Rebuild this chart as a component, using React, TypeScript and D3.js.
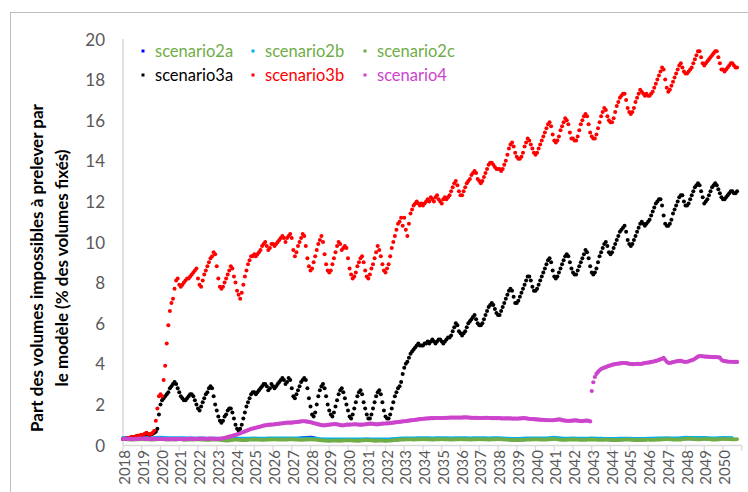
import React from "react";
import * as d3 from "d3";

// ---------- data ----------
const yearLabels = d3.range(2018, 2051).map(String);
const yTickValues = [0, 2, 4, 6, 8, 10, 12, 14, 16, 18, 20];

// semi-annual values (every 6 months from Jan 2018)
const scenario2a = [
  0.31, 0.29, 0.3, 0.29, 0.31, 0.29, 0.3, 0.28, 0.29, 0.27, 0.28, 0.24, 0.27, 0.26, 0.28, 0.27,
  0.29, 0.28, 0.3, 0.35, 0.38, 0.27, 0.22, 0.23, 0.24, 0.23, 0.25, 0.23, 0.22, 0.25, 0.28, 0.29,
  0.3, 0.29, 0.3, 0.29, 0.3, 0.29, 0.3, 0.29, 0.3, 0.27, 0.25, 0.27, 0.29, 0.28, 0.31, 0.27,
  0.28, 0.27, 0.28, 0.27, 0.26, 0.26, 0.27, 0.25, 0.27, 0.28, 0.3, 0.28, 0.31, 0.3, 0.31, 0.29,
  0.31, 0.3,
];
const scenario2b = [
  0.37, 0.36, 0.37, 0.36, 0.38, 0.36, 0.36, 0.35, 0.35, 0.33, 0.33, 0.31, 0.33, 0.33, 0.34, 0.33,
  0.35, 0.34, 0.35, 0.34, 0.35, 0.31, 0.29, 0.29, 0.3, 0.29, 0.31, 0.29, 0.29, 0.32, 0.35, 0.35,
  0.36, 0.35, 0.36, 0.35, 0.36, 0.35, 0.36, 0.35, 0.36, 0.33, 0.32, 0.34, 0.35, 0.34, 0.38, 0.33,
  0.34, 0.33, 0.34, 0.33, 0.32, 0.33, 0.33, 0.32, 0.33, 0.34, 0.36, 0.34, 0.38, 0.37, 0.37, 0.35,
  0.37, 0.36,
];
// quarterly values
const scenario2c = [
  0.3, 0.28, 0.27, 0.28, 0.29, 0.28, 0.27, 0.28, 0.3, 0.29, 0.27, 0.28, 0.29, 0.27, 0.26, 0.27,
  0.28, 0.26, 0.25, 0.26, 0.27, 0.25, 0.22, 0.24, 0.26, 0.25, 0.24, 0.26, 0.27, 0.26, 0.25, 0.27,
  0.28, 0.27, 0.26, 0.27, 0.28, 0.27, 0.25, 0.27, 0.28, 0.27, 0.24, 0.22, 0.2, 0.22, 0.21, 0.22,
  0.23, 0.22, 0.21, 0.23, 0.24, 0.23, 0.21, 0.22, 0.2, 0.22, 0.24, 0.26, 0.27, 0.28, 0.27, 0.28,
  0.29, 0.28, 0.27, 0.28, 0.29, 0.28, 0.27, 0.28, 0.29, 0.28, 0.27, 0.28, 0.29, 0.28, 0.27, 0.28,
  0.29, 0.28, 0.26, 0.25, 0.24, 0.25, 0.26, 0.27, 0.28, 0.27, 0.26, 0.28, 0.3, 0.27, 0.25, 0.26,
  0.27, 0.26, 0.25, 0.26, 0.27, 0.26, 0.25, 0.26, 0.25, 0.24, 0.25, 0.26, 0.26, 0.25, 0.24, 0.25,
  0.26, 0.25, 0.26, 0.28, 0.29, 0.28, 0.26, 0.27, 0.3, 0.31, 0.29, 0.28, 0.3, 0.29, 0.27, 0.28,
  0.3, 0.29, 0.28, 0.29,
];
// monthly values from Jan 2018
const scenario3a = [
  0.3, 0.3, 0.32, 0.34, 0.35, 0.37, 0.39, 0.4, 0.41, 0.43, 0.44, 0.46,
  0.48, 0.5, 0.52, 0.55, 0.53, 0.5, 0.53, 0.56, 0.6, 0.65, 0.8, 1.5,
  2.0, 2.2, 2.3, 2.4, 2.5, 2.6, 2.8, 2.9, 3.0, 3.1, 3.0, 2.8,
  2.6, 2.4, 2.3, 2.2, 2.2, 2.3, 2.4, 2.5, 2.5, 2.4, 2.2, 2.0,
  1.8, 1.7, 1.9, 2.1, 2.3, 2.5, 2.6, 2.8, 2.9, 2.8, 2.4, 2.0,
  1.7, 1.4, 1.2, 1.1, 1.2, 1.4, 1.5, 1.7, 1.8, 1.8, 1.6, 1.3,
  1.0, 0.8, 0.7, 0.8, 1.0, 1.3, 1.6, 1.9, 2.1, 2.3, 2.5, 2.6,
  2.6, 2.5, 2.6, 2.7, 2.8, 2.9, 3.0, 3.0, 2.9, 2.7, 2.8, 3.0,
  2.9, 2.8, 2.9, 3.0, 3.1, 3.2, 3.3, 3.2, 3.0, 3.1, 3.3, 3.2,
  2.8, 2.4, 2.3, 2.5, 2.7, 2.9, 3.1, 3.2, 3.3, 3.2, 2.8, 2.3,
  1.9, 1.5, 1.4, 1.6, 2.0, 2.4, 2.7, 2.9, 3.0, 2.8, 2.4, 2.0,
  1.7, 1.5, 1.4, 1.6, 1.9, 2.2, 2.5, 2.7, 2.8, 2.6, 2.3, 2.0,
  1.7, 1.4, 1.3, 1.5, 1.8, 2.1, 2.4, 2.6, 2.7, 2.5, 2.1, 1.8,
  1.5, 1.3, 1.3, 1.5, 1.8, 2.1, 2.4, 2.6, 2.7, 2.5, 2.1, 1.7,
  1.4, 1.3, 1.3, 1.5, 1.8, 2.1, 2.4, 2.6, 2.8, 2.9, 3.1, 3.5,
  3.8, 4.0, 4.1, 4.3, 4.5, 4.6, 4.7, 4.8, 4.9, 5.0, 4.9, 4.9,
  4.9, 5.0, 5.0, 5.1, 5.0, 5.1, 5.2, 5.1, 5.0, 5.1, 5.2, 5.2,
  5.1, 5.0, 5.1, 5.2, 5.3, 5.3, 5.4, 5.6, 5.8, 6.0, 5.9, 5.6,
  5.5, 5.4, 5.5, 5.6, 5.8, 6.0, 6.1, 6.2, 6.3, 6.4, 6.2, 6.0,
  5.9, 5.9, 6.0, 6.2, 6.4, 6.6, 6.8, 6.9, 7.0, 6.9, 6.7, 6.5,
  6.4, 6.4, 6.6, 6.8, 7.0, 7.2, 7.4, 7.6, 7.7, 7.6, 7.3, 7.0,
  7.0, 7.1, 7.3, 7.5, 7.7, 7.9, 8.1, 8.3, 8.3, 8.1, 7.8, 7.6,
  7.6, 7.7, 7.9, 8.1, 8.3, 8.5, 8.7, 8.9, 9.1, 9.2, 9.0, 8.6,
  8.3, 8.2, 8.3, 8.5, 8.7, 8.9, 9.1, 9.3, 9.4, 9.3, 9.0, 8.7,
  8.5, 8.4, 8.4, 8.6, 8.8, 9.0, 9.2, 9.4, 9.6, 9.5, 9.2, 8.8,
  8.5, 8.4, 8.5, 8.7, 9.0, 9.3, 9.5, 9.7, 9.9, 10.0, 9.8, 9.5,
  9.4, 9.5, 9.7, 9.9, 10.1, 10.3, 10.5, 10.6, 10.7, 10.8, 10.5, 10.1,
  9.9, 9.8, 9.9, 10.1, 10.3, 10.5, 10.7, 10.9, 11.0, 10.9, 10.8, 10.9,
  11.0, 11.1, 11.3, 11.5, 11.7, 11.9, 12.0, 12.1, 12.1, 11.8, 11.3, 10.9,
  10.8, 10.8, 10.9, 11.1, 11.4, 11.6, 11.8, 12.0, 12.2, 12.3, 12.3, 12.0,
  11.8, 11.8, 11.9, 12.1, 12.3, 12.5, 12.7, 12.8, 12.9, 12.8, 12.5, 12.2,
  11.9, 12.0, 12.1, 12.3, 12.5, 12.7, 12.8, 12.9, 12.8, 12.6, 12.4, 12.2,
  12.1, 12.1, 12.2, 12.3, 12.4, 12.5, 12.5, 12.4, 12.4, 12.5,
];
const scenario3b = [
  0.3, 0.3, 0.32, 0.35, 0.35, 0.38, 0.4, 0.4, 0.42, 0.45, 0.45, 0.48,
  0.5, 0.5, 0.55, 0.6, 0.55, 0.5, 0.55, 0.6, 0.7, 1.2, 1.8, 2.4,
  2.5, 2.4, 3.2, 3.9, 5.0, 5.9, 6.6, 7.0, 7.2, 7.7, 8.1, 8.2,
  7.9, 7.8, 7.9, 8.0, 8.1, 8.2, 8.2, 8.3, 8.4, 8.5, 8.6, 8.7,
  8.2, 7.9, 7.8, 8.1, 8.4, 8.6, 8.8, 9.0, 9.2, 9.3, 9.5, 9.4,
  8.8, 8.2, 7.8, 7.7, 7.8, 8.0, 8.2, 8.4, 8.6, 8.8, 8.7, 8.3,
  8.0, 7.6, 7.4, 7.2, 7.5, 7.9, 8.3, 8.6, 8.9, 9.1, 9.3, 9.3,
  9.4, 9.3, 9.4, 9.5, 9.6, 9.8, 9.9, 10.0, 9.8, 9.6, 9.7, 9.9,
  9.9, 9.8, 9.9, 10.0, 10.1, 10.2, 10.3, 10.2, 10.0, 10.2, 10.3, 10.4,
  10.2, 9.6, 9.3, 9.5, 9.8, 10.0, 10.2, 10.4, 10.3, 9.8, 9.2, 8.8,
  8.6, 8.7, 9.0, 9.3, 9.6, 9.9, 10.1, 10.3, 10.0, 9.4, 8.9, 8.6,
  8.5, 8.6, 8.9, 9.2, 9.5, 9.8, 10.0, 9.9, 9.6, 9.7, 9.8, 9.7,
  9.2, 8.7, 8.4, 8.2, 8.3, 8.5, 8.8, 9.0, 9.2, 9.3, 9.0, 8.6,
  8.3, 8.2, 8.4, 8.7, 8.9, 9.2, 9.5, 9.8, 9.6, 9.3, 8.9, 8.6,
  8.5, 8.7, 8.9, 9.3, 9.7, 10.0, 10.3, 10.6, 10.9, 11.0, 11.2, 10.8,
  11.2, 10.6, 10.3, 10.9, 11.4, 11.6, 11.8, 11.9, 12.0, 11.9, 11.8, 11.9,
  11.8, 11.9, 12.0, 12.1, 12.0, 12.2, 12.1, 12.0, 12.2, 12.3, 12.1, 12.0,
  11.9, 12.1, 12.2, 12.1, 12.2, 12.3, 12.5, 12.7, 12.9, 13.0, 12.8, 12.5,
  12.3, 12.3, 12.5, 12.7, 12.9, 13.0, 13.1, 13.3, 13.4, 13.5, 13.4, 13.1,
  13.0, 12.9, 13.0, 13.2, 13.4, 13.6, 13.8, 13.9, 13.9, 13.8, 13.7, 13.6,
  13.6, 13.6, 13.5, 13.6, 13.8, 14.0, 14.3, 14.6, 14.8, 14.9, 14.7, 14.4,
  14.2, 14.1, 14.1, 14.2, 14.4, 14.7, 14.9, 15.1, 15.0, 14.8, 14.6, 14.4,
  14.3, 14.4, 14.6, 14.8, 15.0, 15.2, 15.4, 15.6, 15.8, 15.9, 15.7, 15.3,
  15.0, 14.9, 15.0, 15.2, 15.5, 15.7, 15.9, 16.1, 16.0, 15.8, 15.4, 15.1,
  15.1, 15.0, 15.0, 15.2, 15.5, 15.8, 16.0, 16.2, 16.3, 16.2, 15.8, 15.4,
  15.2, 15.1, 15.1, 15.3, 15.6, 15.9, 16.2, 16.4, 16.6, 16.5, 16.2, 16.0,
  15.9, 15.9, 16.1, 16.4, 16.7, 16.9, 17.1, 17.2, 17.3, 17.3, 17.0, 16.6,
  16.4, 16.3, 16.4, 16.6, 16.9, 17.1, 17.3, 17.5, 17.4, 17.3, 17.2, 17.3,
  17.2, 17.2, 17.3, 17.4, 17.6, 17.8, 18.0, 18.2, 18.4, 18.6, 18.5, 18.0,
  17.6, 17.4, 17.5, 17.7, 17.9, 18.1, 18.3, 18.5, 18.7, 18.8, 18.6, 18.4,
  18.3, 18.3, 18.4, 18.5, 18.6, 18.8, 19.0, 19.2, 19.4, 19.4, 19.1, 18.8,
  18.7, 18.8, 18.9, 19.0, 19.1, 19.2, 19.3, 19.4, 19.4, 19.1, 18.8, 18.5,
  18.5, 18.4, 18.5, 18.6, 18.7, 18.8, 18.8, 18.7, 18.6, 18.6,
];
const scenario4 = [
  0.3, 0.3, 0.31, 0.31, 0.3, 0.3, 0.29, 0.29, 0.3, 0.3, 0.31, 0.31,
  0.32, 0.32, 0.31, 0.3, 0.3, 0.29, 0.29, 0.3, 0.31, 0.31, 0.3, 0.3,
  0.3, 0.29, 0.29, 0.28, 0.28, 0.29, 0.3, 0.3, 0.29, 0.28, 0.28, 0.29,
  0.3, 0.3, 0.29, 0.28, 0.28, 0.29, 0.3, 0.31, 0.31, 0.3, 0.29, 0.29,
  0.3, 0.31, 0.32, 0.32, 0.31, 0.3, 0.3, 0.31, 0.32, 0.32, 0.31, 0.3,
  0.3, 0.3, 0.31, 0.32, 0.33, 0.35, 0.37, 0.39, 0.41, 0.43, 0.45, 0.47,
  0.49, 0.52, 0.55, 0.58, 0.61, 0.64, 0.67, 0.7, 0.73, 0.76, 0.79, 0.81,
  0.83, 0.85, 0.87, 0.89, 0.91, 0.93, 0.95, 0.97, 0.98, 0.99, 1.0, 1.0,
  1.01, 1.02, 1.03, 1.04, 1.05, 1.06, 1.07, 1.08, 1.09, 1.1, 1.1, 1.1,
  1.1, 1.11, 1.12, 1.13, 1.14, 1.15, 1.16, 1.17, 1.17, 1.16, 1.15, 1.14,
  1.12, 1.1, 1.08, 1.06, 1.04, 1.02, 1.0, 0.98, 0.97, 0.97, 0.98, 0.99,
  1.0, 1.01, 1.02, 1.03, 1.03, 1.02, 1.0, 0.98, 0.97, 0.97, 0.98, 1.0,
  1.0, 1.0, 1.01, 1.01, 1.02, 1.02, 1.01, 1.0, 1.0, 1.0, 1.01, 1.02,
  1.03, 1.04, 1.05, 1.05, 1.04, 1.03, 1.02, 1.02, 1.03, 1.04, 1.05, 1.06,
  1.06, 1.07, 1.07, 1.08, 1.09, 1.1, 1.11, 1.12, 1.13, 1.14, 1.15, 1.16,
  1.17, 1.18, 1.19, 1.2, 1.21, 1.22, 1.23, 1.24, 1.25, 1.26, 1.27, 1.28,
  1.29, 1.3, 1.3, 1.31, 1.31, 1.32, 1.32, 1.32, 1.33, 1.33, 1.33, 1.33,
  1.33, 1.33, 1.34, 1.34, 1.34, 1.35, 1.35, 1.35, 1.35, 1.35, 1.35, 1.35,
  1.35, 1.35, 1.36, 1.36, 1.36, 1.35, 1.35, 1.34, 1.34, 1.34, 1.34, 1.34,
  1.33, 1.33, 1.33, 1.34, 1.34, 1.34, 1.33, 1.33, 1.32, 1.32, 1.32, 1.32,
  1.32, 1.32, 1.31, 1.31, 1.31, 1.31, 1.31, 1.31, 1.31, 1.3, 1.3, 1.3,
  1.3, 1.3, 1.31, 1.31, 1.32, 1.32, 1.31, 1.3, 1.29, 1.28, 1.27, 1.27,
  1.26, 1.26, 1.25, 1.25, 1.24, 1.24, 1.23, 1.23, 1.22, 1.22, 1.22, 1.22,
  1.23, 1.24, 1.25, 1.26, 1.25, 1.23, 1.21, 1.2, 1.19, 1.19, 1.19, 1.2,
  1.2, 1.21, 1.21, 1.2, 1.19, 1.18, 1.18, 1.19, 1.2, 1.2, 1.19, 1.16,
  2.66, 3.09, 3.35, 3.5, 3.6, 3.68, 3.74, 3.78, 3.81, 3.84, 3.87, 3.9,
  3.92, 3.95, 3.97, 3.98, 4.0, 4.01, 4.02, 4.03, 4.04, 4.04, 4.03, 4.02,
  4.0, 3.99, 3.98, 3.98, 3.99, 4.0, 4.0, 3.99, 4.0, 4.02, 4.04, 4.05,
  4.06, 4.07, 4.09, 4.1, 4.12, 4.14, 4.16, 4.19, 4.22, 4.25, 4.29, 4.2,
  4.1, 4.05, 4.04, 4.06, 4.08, 4.1, 4.12, 4.13, 4.14, 4.14, 4.12, 4.1,
  4.09, 4.1, 4.12, 4.15, 4.18, 4.2, 4.25, 4.3, 4.35, 4.38, 4.38, 4.37,
  4.36, 4.35, 4.35, 4.34, 4.34, 4.33, 4.33, 4.33, 4.33, 4.32, 4.3, 4.2,
  4.15, 4.13, 4.12, 4.11, 4.1, 4.1, 4.1, 4.09, 4.09, 4.09,
];

const seriesNames = ["scenario2a", "scenario2b", "scenario2c", "scenario3a", "scenario3b", "scenario4"];
const seriesColors = ["#0000ff", "#00b0f0", "#70ad47", "#000000", "#ff0000", "#cc44cc"];
const legendTextColors = ["#70ad47", "#70ad47", "#70ad47", "#000000", "#ff0000", "#cc44cc"];

const yTitle1 = "Part des volumes impossibles à prelever par";
const yTitle2 = "le modèle (% des volumes fixés)";

// ---------- layout ----------
const W = 748;
const H = 492;
const plotLeft = 123;
const plotRight = 741.75;
const plotTop = 39;
const plotBottom = 445;
const totalMonths = yearLabels.length * 12;

const font = "Lato, 'Open Sans', sans-serif";

export default function App() {
  const x = d3.scaleLinear().domain([0, totalMonths]).range([plotLeft, plotRight]);
  const y = d3.scaleLinear().domain([0, 20]).range([plotBottom, plotTop]);

  const lineSeries = [
    { values: scenario2a, step: 6, color: seriesColors[0], width: 3 },
    { values: scenario2b, step: 6, color: seriesColors[1], width: 3 },
    { values: scenario2c, step: 3, color: seriesColors[2], width: 3.8 },
  ];
  const dotSeries = [
    { values: scenario3a, color: seriesColors[3], r: 2.0 },
    { values: scenario3b, color: seriesColors[4], r: 2.0 },
    { values: scenario4, color: seriesColors[5], r: 2.1 },
  ];

  const legendX = [143, 253, 365];
  const legendY = [51, 75];

  return (
    <svg
      width={W}
      height={H}
      style={{ position: "absolute", left: 0, top: 0, background: "#fff" }}
      fontFamily={font}
    >
      <rect x={0} y={0} width={W} height={H} fill="#fff" />
      <rect x={10.5} y={12.5} width={W + 20} height={H + 20} fill="none" stroke="#bdbdbd" strokeWidth={1} />

      {/* axes */}
      <line x1={plotLeft} x2={plotLeft} y1={plotTop} y2={plotBottom} stroke="#d9d9d9" strokeWidth={1.5} />
      <line x1={plotLeft} x2={plotRight} y1={plotBottom + 0.5} y2={plotBottom + 0.5} stroke="#d9d9d9" strokeWidth={1.5} />
      {d3.range(0, yearLabels.length + 1).map((k) => (
        <line
          key={"xt" + k}
          x1={x(k * 12)}
          x2={x(k * 12)}
          y1={plotBottom}
          y2={plotBottom + 6}
          stroke="#d9d9d9"
          strokeWidth={1.2}
        />
      ))}
      {yearLabels.map((lab, k) => (
        <text
          key={"xl" + k}
          transform={`translate(${x(k * 12) + 1},${plotBottom + 5}) rotate(-90)`}
          textAnchor="end"
          dominantBaseline="central"
          fontSize={15}
          fill="#595959"
        >
          {lab}
        </text>
      ))}
      {yTickValues.map((v) => (
        <text
          key={"yl" + v}
          x={105}
          y={y(v)}
          textAnchor="end"
          dominantBaseline="central"
          fontSize={17}
          fill="#595959"
        >
          {v}
        </text>
      ))}

      {/* axis title */}
      <g transform="translate(36,268) rotate(-90)">
        <text textAnchor="middle" dominantBaseline="central" fontSize={17} fontWeight="bold" fill="#000">
          {yTitle1}
        </text>
        <text y={25} textAnchor="middle" dominantBaseline="central" fontSize={17} fontWeight="bold" fill="#000">
          {yTitle2}
        </text>
      </g>

      {/* low series drawn as dense marker lines */}
      {lineSeries.map((s, si) => {
        const path = d3
          .line<number>()
          .x((_, i) => x(i * s.step))
          .y((v) => y(v))
          .curve(d3.curveMonotoneX)(s.values);
        return (
          <path
            key={"ls" + si}
            d={path || ""}
            fill="none"
            stroke={s.color}
            strokeWidth={s.width}
            strokeLinecap="round"
            strokeLinejoin="round"
          />
        );
      })}

      {dotSeries.map((s, si) => (
        <g key={"ds" + si} fill={s.color}>
          {s.values.map((v, i) => (
            <circle key={i} cx={x(i)} cy={y(v)} r={s.r} />
          ))}
        </g>
      ))}

      {/* legend */}
      {seriesNames.map((name, k) => {
        const lx = legendX[k % 3];
        const ly = legendY[Math.floor(k / 3)];
        return (
          <g key={"lg" + k}>
            <rect x={lx - 1.5} y={ly - 1.5} width={3} height={3} fill={seriesColors[k]} />
            <text x={lx + 12} y={ly} dominantBaseline="central" fontSize={16.5} fill={legendTextColors[k]}>
              {name}
            </text>
          </g>
        );
      })}
    </svg>
  );
}
